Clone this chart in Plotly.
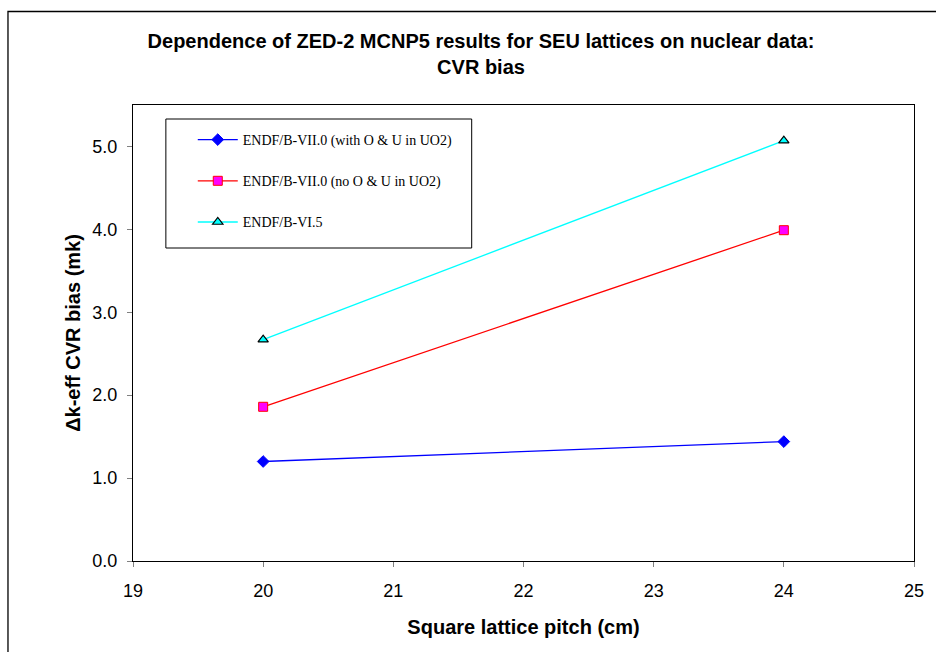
import plotly.graph_objects as go

pitch = [20, 24]
with_o_u = [1.20, 1.44]
no_o_u = [1.86, 3.99]
vi5 = [2.67, 5.07]
names = ["ENDF/B-VII.0 (with O &amp; U in UO2)", "ENDF/B-VII.0 (no O &amp; U in UO2)", "ENDF/B-VI.5"]

W, H = 936, 652
ml, mr, mt, mb = 133, 19, 105, 91
pw, ph = W - ml - mr, H - mt - mb

def px(x):
    return (x - ml) / pw

def py(y):
    return 1 - (y - mt) / ph

fig = go.Figure()
fig.add_trace(go.Scatter(x=pitch, y=with_o_u, mode="lines+markers", name=names[0],
                         line=dict(color="#0000ff", width=1.3),
                         marker=dict(symbol="diamond", size=9, color="#0000ff",
                                     line=dict(color="#0000ff", width=1)),
                         legendgroup="a"))
fig.add_trace(go.Scatter(x=pitch, y=no_o_u, mode="lines+markers", name=names[1],
                         line=dict(color="#ff0000", width=1.3),
                         marker=dict(symbol="square", size=9, color="#ff00ff",
                                     line=dict(color="#ff0000", width=1)),
                         legendgroup="b"))
fig.add_trace(go.Scatter(x=pitch, y=vi5, mode="lines+markers", name=names[2],
                         line=dict(color="#00ffff", width=1.3),
                         marker=dict(symbol="triangle-up", size=9, color="#00ffff",
                                     line=dict(color="#000000", width=1.2)),
                         legendgroup="c"))

fig.update_layout(
    width=W, height=H,
    margin=dict(l=ml, r=mr, t=mt, b=mb),
    paper_bgcolor="white", plot_bgcolor="white",
    title=dict(text="<b>Dependence of ZED-2 MCNP5 results for SEU lattices on nuclear data:<br>CVR bias</b>",
               x=481 / W, xanchor="center", y=1 - 48 / H, yanchor="top",
               font=dict(family="Liberation Sans, Arial", size=20, color="black")),
    font=dict(family="Liberation Sans, Arial", color="black"),
    showlegend=True,
    legend=dict(x=px(193), y=py(124), xanchor="left", yanchor="top",
                bgcolor="rgba(0,0,0,0)", borderwidth=0,
                font=dict(family="Liberation Serif, Times New Roman", size=14, color="black"),
                itemwidth=40, tracegroupgap=20, traceorder="grouped"),
    xaxis=dict(range=[19, 25], dtick=1, tick0=19, showgrid=False, zeroline=False,
               showline=True, linecolor="black", linewidth=1, mirror=True,
               ticks="outside", ticklen=5, tickcolor="#808080", ticklabelstandoff=8,
               tickfont=dict(size=18, family="Liberation Sans, Arial"),
               title=dict(text="<b>Square lattice pitch (cm)</b>", standoff=20,
                          font=dict(size=20, family="Liberation Sans, Arial"))),
    yaxis=dict(range=[0, 5.5], dtick=1, tick0=0, tickformat=".1f", showgrid=False, zeroline=False,
               showline=True, linecolor="black", linewidth=1, mirror=True,
               ticks="outside", ticklen=5, tickcolor="#808080", ticklabelstandoff=6,
               tickfont=dict(size=18, family="Liberation Sans, Arial"),
               title=dict(text="<b>Δk-eff CVR bias (mk)</b>", standoff=6,
                          font=dict(size=20, family="Liberation Sans, Arial"))),
    shapes=[
        dict(type="rect", xref="paper", yref="paper",
             x0=px(7.5), x1=px(940), y0=py(660), y1=py(11.5),
             line=dict(color="black", width=1.3), fillcolor="rgba(0,0,0,0)", layer="below"),
        dict(type="rect", xref="paper", yref="paper",
             x0=px(166), x1=px(473), y0=py(248), y1=py(119),
             line=dict(color="black", width=1), fillcolor="rgba(0,0,0,0)"),
    ],
)

fig.write_html("out.html")
